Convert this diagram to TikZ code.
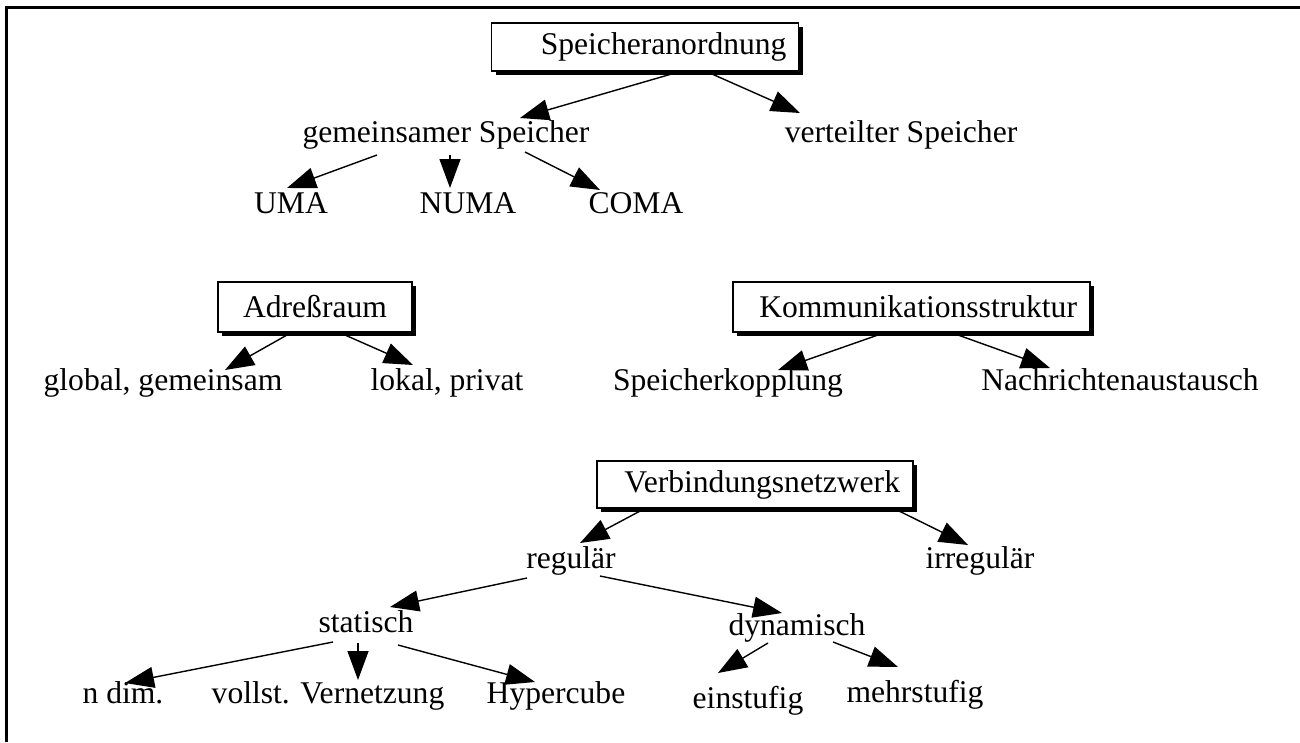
\documentclass[tikz,border=0pt]{standalone}
\usepackage{fontspec}
\setmainfont{Liberation Serif}
\usetikzlibrary{arrows.meta,shadows,calc}
\begin{document}
\begin{tikzpicture}[x=1pt,y=-1pt,
  every node/.style={font=\fontsize{31.6pt}{38pt}\selectfont, inner sep=0pt},
  lbl/.style={anchor=base},
  hbox/.style={draw, line width=1.8pt, fill=white, inner sep=0pt,
    drop shadow={shadow xshift=4pt, shadow yshift=-4pt, fill=black, opacity=1}},
  link/.style={line width=1.4pt, -{Triangle[length=29pt,width=21pt]}}
]
\useasboundingbox (0,0) rectangle (1300,742);
% outer frame (top and left edges only)
\draw[line width=3pt] (6,742) -- (6,7) -- (1300,7);

% memory organisation
\node[hbox, minimum width=307pt, minimum height=48pt, text width=283pt, align=right] (sa) at (645,47) {Speicheranordnung};
\node[lbl] (gs) at (446,142) {gemeinsamer Speicher};
\node[lbl] (vs) at (901,142) {verteilter Speicher};
\node[lbl] (uma) at (291,213) {UMA};
\node[lbl] (numa) at (468,213) {NUMA};
\node[lbl] (coma) at (636,213) {COMA};

% address space
\node[hbox, minimum width=194pt, minimum height=50pt] (ar) at (315,307) {Adreßraum};
\node[lbl] (gg) at (163,390) {global, gemeinsam};
\node[lbl] (lp) at (447,390) {lokal, privat};

% communication structure
\node[hbox, minimum width=357pt, minimum height=50pt, text width=331pt, align=right] (ks) at (911.5,307) {Kommunikationsstruktur};
\node[lbl] (sk) at (728,390) {Speicherkopplung};
\node[lbl] (na) at (1120,390) {Nachrichtenaustausch};

% interconnection network
\node[hbox, minimum width=316pt, minimum height=47pt, text width=290pt, align=right] (vn) at (755,484.5) {Verbindungsnetzwerk};
\node[lbl] (reg) at (571,568) {regulär};
\node[lbl] (irr) at (980,568) {irregulär};
\node[lbl] (stat) at (366,632) {statisch};
\node[lbl] (dyn) at (797,635) {dynamisch};
\node[lbl] (nd) at (123,703) {n dim.};
\node[lbl] (vv) at (328,703) {vollst. Vernetzung};
\node[lbl] (hyp) at (556,703) {Hypercube};
\node[lbl] (ein) at (748,708) {einstufig};
\node[lbl] (mehr) at (915,702) {mehrstufig};

% connectors
\draw[link] ($(sa)+(30,26)$) -- ($(gs.base)+(74,-24)$);
\draw[link] ($(sa)+(67,27)$) -- ($(vs.base)+(-101,-29)$);
\draw[link] ($(gs.base)+(-69,13)$) -- ($(uma.base)+(-4,-25)$);
\draw[link] ($(gs.base)+(4,13)$) -- ($(numa.base)+(-18,-25)$);
\draw[link] ($(gs.base)+(79,10)$) -- ($(coma.base)+(-36,-23)$);

\draw[link] ($(ar)+(-28,28)$) -- ($(gg.base)+(62,-20)$);
\draw[link] ($(ar)+(30,28)$) -- ($(lp.base)+(-34,-25)$);
\draw[link] ($(ks)+(-33.5,28)$) -- ($(sk.base)+(50,-20)$);
\draw[link] ($(ks)+(46.5,28)$) -- ($(na.base)+(-70,-22)$);

\draw[link] ($(vn)+(-113,25.5)$) -- ($(reg.base)+(9,-25)$);
\draw[link] ($(vn)+(142,25.5)$) -- ($(irr.base)+(-12,-23)$);
\draw[link] ($(reg.base)+(-44,10)$) -- ($(stat.base)+(24,-25)$);
\draw[link] ($(reg.base)+(29,8)$) -- ($(dyn.base)+(-15,-22)$);
\draw[link] ($(stat.base)+(-33,10)$) -- ($(nd.base)+(2,-20)$);
\draw[link] ($(stat.base)+(-8,11)$) -- ($(vv.base)+(30,-23)$);
\draw[link] ($(stat.base)+(32,13)$) -- ($(hyp.base)+(-21,-21)$);
\draw[link] ($(dyn.base)+(-29,8)$) -- ($(ein.base)+(-30,-35)$);
\draw[link] ($(dyn.base)+(36,7)$) -- ($(mehr.base)+(-17,-35)$);
\end{tikzpicture}
\end{document}
